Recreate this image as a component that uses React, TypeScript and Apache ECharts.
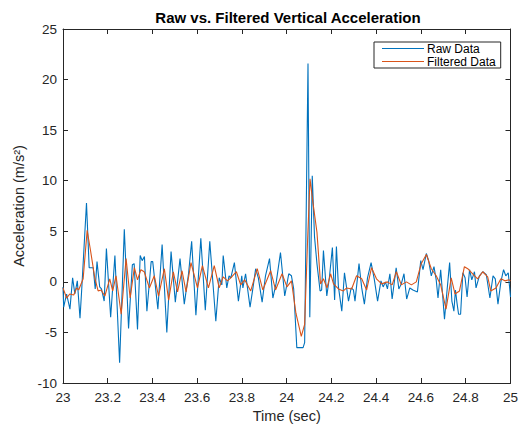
import React, { useEffect, useRef } from "react";
import * as echarts from "echarts";

// Raw accelerometer trace (vertices: time in s, acceleration in m/s^2)
const rawTime = [
  23.0, 23.003, 23.016, 23.031, 23.043, 23.053, 23.064, 23.076, 23.084, 23.105,
  23.117, 23.135, 23.144, 23.152, 23.164, 23.172, 23.184, 23.194, 23.213, 23.232,
  23.253, 23.274, 23.293, 23.31, 23.318, 23.333, 23.345, 23.354, 23.364, 23.375,
  23.394, 23.401, 23.424, 23.443, 23.464, 23.483, 23.502, 23.523, 23.542, 23.561,
  23.575, 23.594, 23.616, 23.636, 23.656, 23.683, 23.698, 23.71, 23.716, 23.732,
  23.742, 23.75, 23.766, 23.784, 23.799, 23.804, 23.816, 23.836, 23.849, 23.861,
  23.873, 23.89, 23.905, 23.923, 23.938, 23.952, 23.972, 23.991, 24.001, 24.009,
  24.021, 24.031, 24.045, 24.073, 24.08, 24.095, 24.103, 24.114, 24.124, 24.135,
  24.149, 24.156, 24.164, 24.179, 24.191, 24.204, 24.214, 24.222, 24.231, 24.246,
  24.258, 24.276, 24.288, 24.298, 24.305, 24.323, 24.335, 24.347, 24.361, 24.377,
  24.391, 24.406, 24.421, 24.431, 24.441, 24.45, 24.461, 24.471, 24.489, 24.501,
  24.512, 24.524, 24.536, 24.55, 24.564, 24.584, 24.599, 24.609, 24.624, 24.634,
  24.646, 24.658, 24.668, 24.676, 24.688, 24.705, 24.717, 24.728, 24.738, 24.747,
  24.754, 24.761, 24.768, 24.777, 24.787, 24.797, 24.806, 24.817, 24.827, 24.839,
  24.846, 24.861, 24.876, 24.892, 24.908, 24.922, 24.932, 24.944, 24.957, 24.969,
  24.979, 24.99, 25.0,
];
const rawAccel = [
  -0.5, -2.5, -1.2, -2.7, 0.4, -1.2, 0.1, -3.6, -0.6, 7.8,
  1.4, 1.4, -0.7, 2.0, -0.5, -0.7, -1.9, 3.3, -3.5, 2.6,
  -8.0, 5.2, -4.6, 1.7, 1.8, -4.7, 2.6, 2.1, 2.5, -2.9,
  2.0, 2.0, -2.7, 3.7, -5.0, 3.0, -2.0, 2.3, -2.2, 0.8,
  4.0, -3.3, 4.3, -2.8, 4.0, -3.9, 0.4, -0.3, 2.6, -0.6,
  0.6, 0.4, 1.9, -1.9, 0.6, -0.6, 0.8, -2.5, -0.6, 1.3,
  0.4, -2.0, 0.6, 2.3, -1.6, -0.2, 2.9, -1.4, -0.2, 0.8,
  0.6, -0.7, -6.5, -6.5, -6.0, 21.6, -3.5, 10.5, 4.5, 1.8,
  -0.9, -0.8, 3.1, -1.4, 0.5, 3.4, -1.8, 3.5, -0.5, -2.9,
  0.9, -1.9, -0.6, -0.8, -1.9, 1.8, -0.6, -2.2, 0.4, 1.9,
  0.3, -1.9, 0.1, -0.5, 0.0, -0.7, 0.8, -1.7, 1.4, -0.7,
  -0.2, 0.8, -1.7, -0.6, -0.8, -1.0, 2.1, 1.2, 2.8, 2.1,
  0.6, 1.5, 0.2, -1.6, 1.2, -3.7, -0.7, 1.9, -1.9, -2.9,
  -0.8, -2.1, -3.2, -3.2, 0.9, 0.4, -1.5, 1.2, 0.2, 1.0,
  -0.6, 0.6, 1.0, 0.7, -1.6, 0.6, 0.3, -2.2, 0.0, 1.2,
  0.6, 0.9, -1.5,
];

// Low-pass filtered trace
const filtTime = [
  23.0, 23.016, 23.03, 23.048, 23.061, 23.07, 23.09, 23.108, 23.123, 23.142,
  23.157, 23.17, 23.187, 23.209, 23.222, 23.237, 23.26, 23.282, 23.3, 23.319,
  23.333, 23.348, 23.363, 23.386, 23.408, 23.427, 23.453, 23.472, 23.493, 23.512,
  23.532, 23.55, 23.572, 23.601, 23.623, 23.65, 23.676, 23.698, 23.716, 23.735,
  23.75, 23.775, 23.794, 23.812, 23.839, 23.868, 23.893, 23.928, 23.95, 23.979,
  24.001, 24.021, 24.041, 24.065, 24.08, 24.093, 24.104, 24.116, 24.135, 24.142,
  24.151, 24.164, 24.18, 24.196, 24.209, 24.231, 24.253, 24.268, 24.29, 24.312,
  24.335, 24.357, 24.379, 24.401, 24.424, 24.45, 24.471, 24.49, 24.512, 24.535,
  24.557, 24.579, 24.601, 24.624, 24.646, 24.668, 24.688, 24.712, 24.735, 24.752,
  24.772, 24.794, 24.809, 24.831, 24.853, 24.876, 24.898, 24.912, 24.935, 24.957,
  24.975, 24.994, 25.0,
];
const filtAccel = [
  -0.6, -1.6, -1.2, -1.3, -0.6, -0.8, 0.3, 5.1, 3.1, 0.4,
  -0.9, -0.8, -1.4, 0.3, -0.9, 0.6, -3.2, 2.3, -1.6, 1.4,
  0.2, 1.2, 1.0, -0.6, 0.6, -1.4, 1.3, -1.8, 1.0, -1.0,
  1.1, -1.0, 1.9, -0.6, 1.6, -0.6, 1.6, -0.6, 0.5, 0.1,
  0.4, 1.0, -0.3, 0.2, -0.9, 1.3, -0.8, 1.1, -0.8, 0.8,
  -0.5, 0.1, -3.1, -5.4, -4.2, 4.0, 10.2, 8.0, 4.9, 2.7,
  -0.2, 0.3, -0.6, 0.8, -0.2, -0.7, -0.9, -0.6, -0.7, 0.6,
  0.3, -0.8, 1.4, 0.3, -0.2, 0.0, -0.3, 1.0, -0.3, 0.0,
  -0.3, 0.0, 1.8, 2.7, 1.3, 0.6, -0.3, -2.7, 0.4, -1.2,
  -0.9, 1.5, 1.3, 0.8, 0.3, 1.0, 0.5, -0.9, -0.6, 0.3,
  0.1, 0.2, 0.1,
];

const seriesNames = ["Raw Data", "Filtered Data"];
const seriesColors = ["#0072BD", "#D95319"];

const FONT = "Arial, 'Liberation Sans', Helvetica, sans-serif";
const AXIS_COLOR = "#262626";
// thin horizontal stroke used as the legend key
const LEGEND_KEY = "path://M0,0 L42,0 L42,1 L0,1 Z";

const zip = (t: number[], v: number[]) => t.map((x, i) => [x, v[i]]);

const fmtX = (v: number) => String(parseFloat(v.toFixed(1)));

export default function App() {
  const ref = useRef<HTMLDivElement>(null);

  useEffect(() => {
    if (!ref.current) return;
    const chart = echarts.init(ref.current, undefined, { renderer: "svg" });

    const baseX = {
      type: "value" as const,
      min: 23,
      max: 25,
      interval: 0.2,
      splitLine: { show: false },
      axisLine: { show: true, onZero: false, lineStyle: { color: AXIS_COLOR, width: 1 } },
      axisTick: { show: true, inside: true, length: 5, lineStyle: { color: AXIS_COLOR } },
    };
    const baseY = {
      type: "value" as const,
      min: -10,
      max: 25,
      interval: 5,
      splitLine: { show: false },
      axisLine: { show: true, onZero: false, lineStyle: { color: AXIS_COLOR, width: 1 } },
      axisTick: { show: true, inside: true, length: 5, lineStyle: { color: AXIS_COLOR } },
    };

    chart.setOption({
      animation: false,
      backgroundColor: "#ffffff",
      textStyle: { fontFamily: FONT },
      grid: { left: 63, right: 8, top: 29, bottom: 46, containLabel: false },
      graphic: [
        {
          type: "text",
          x: 288,
          y: 17,
          style: {
            text: "Raw vs. Filtered Vertical Acceleration",
            fontFamily: FONT,
            fontSize: 15,
            fontWeight: "bold",
            fill: "#000000",
            textAlign: "center",
            textVerticalAlign: "middle",
          },
        },
      ],
      legend: {
        data: seriesNames.map((name) => ({ name, icon: LEGEND_KEY })),
        orient: "vertical",
        left: 374,
        top: 42,
        padding: [0, 5, 0, 8],
        itemGap: 0,
        itemWidth: 42,
        itemHeight: 13,
        borderColor: AXIS_COLOR,
        borderWidth: 1,
        borderRadius: 0,
        backgroundColor: "#ffffff",
        textStyle: {
          fontFamily: FONT,
          fontSize: 12,
          lineHeight: 13,
          color: "#000000",
          padding: [0, 0, 0, -2],
        },
      },
      xAxis: [
        {
          ...baseX,
          position: "bottom",
          name: "Time (sec)",
          nameLocation: "middle",
          nameGap: 24,
          nameTextStyle: { fontFamily: FONT, fontSize: 14.5, color: AXIS_COLOR },
          axisLabel: {
            show: true,
            formatter: fmtX,
            fontFamily: FONT,
            fontSize: 13.5,
            color: AXIS_COLOR,
            margin: 7,
          },
        },
        { ...baseX, position: "top", axisLabel: { show: false } },
      ],
      yAxis: [
        {
          ...baseY,
          position: "left",
          name: "Acceleration (m/s²)",
          nameLocation: "middle",
          nameGap: 32,
          nameTextStyle: { fontFamily: FONT, fontSize: 14.5, color: AXIS_COLOR },
          axisLabel: {
            show: true,
            fontFamily: FONT,
            fontSize: 13.5,
            color: AXIS_COLOR,
            margin: 6,
          },
        },
        { ...baseY, position: "right", axisLabel: { show: false } },
      ],
      series: [
        {
          name: seriesNames[0],
          type: "line",
          data: zip(rawTime, rawAccel),
          symbol: "none",
          color: seriesColors[0],
          lineStyle: { color: seriesColors[0], width: 1.1 },
          z: 2,
        },
        {
          name: seriesNames[1],
          type: "line",
          data: zip(filtTime, filtAccel),
          symbol: "none",
          color: seriesColors[1],
          lineStyle: { color: seriesColors[1], width: 1.1 },
          z: 3,
        },
      ],
    });

    return () => chart.dispose();
  }, []);

  return (
    <div
      ref={ref}
      style={{ position: "fixed", left: 0, top: 0, width: 521, height: 429, background: "#fff" }}
    />
  );
}
